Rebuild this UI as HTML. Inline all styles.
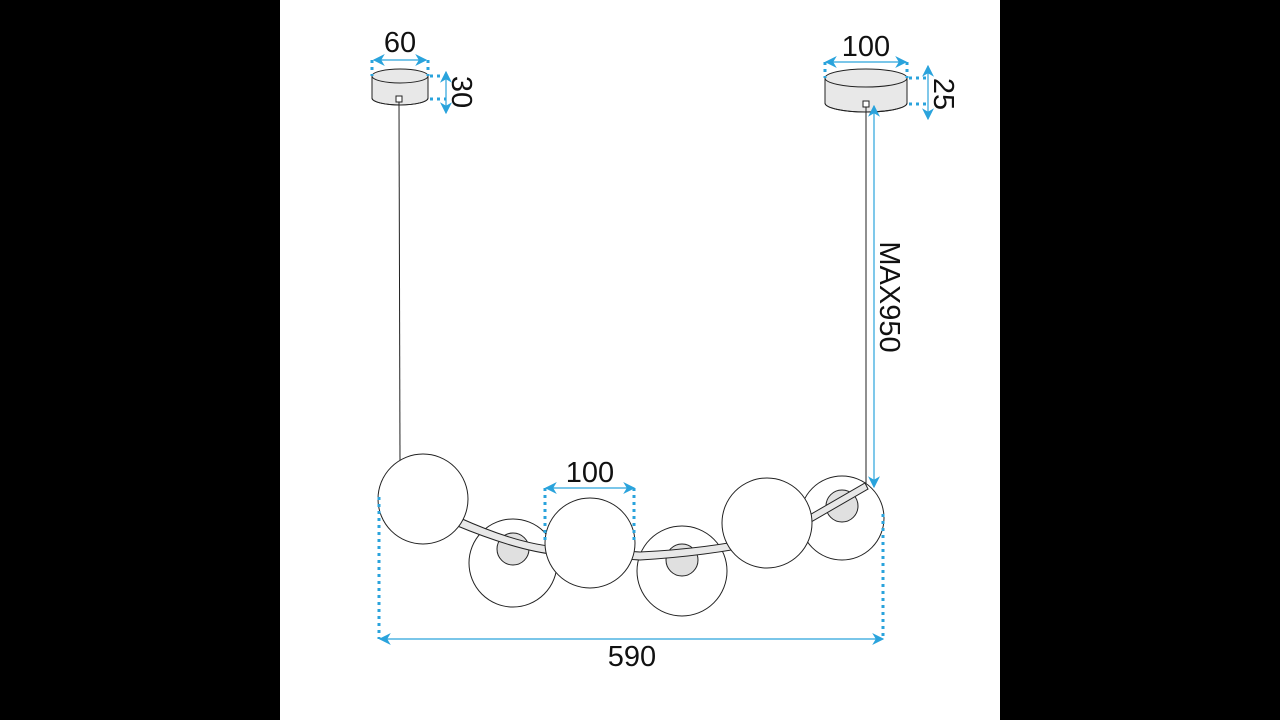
<!DOCTYPE html>
<html><head><style>
html,body{margin:0;padding:0;background:#000;width:1280px;height:720px;overflow:hidden}
svg{display:block}
text{font-family:"Liberation Sans",sans-serif;fill:#111}
</style></head><body>
<svg width="1280" height="720" viewBox="0 0 1280 720">
<defs>
<marker id="a" viewBox="0 0 10 10" refX="9" refY="5" markerWidth="10" markerHeight="10" orient="auto-start-reverse"><path d="M0,0 L10,5 L0,10 L3,5z" fill="#2aa3dc"/></marker>
</defs>
<rect x="280" y="0" width="720" height="720" fill="#fff"/>
<g stroke="#222" stroke-width="1" fill="#e8e8e8">
<path d="M372,76 L372,98 A28,7 0 0 0 428,98 L428,76 Z"/>
<ellipse cx="400" cy="76" rx="28" ry="7"/>
<path d="M372,98 A28,7 0 0 0 428,98" fill="none"/>
<rect x="396" y="96" width="6" height="6" fill="#fff"/>
<line x1="399" y1="102" x2="400" y2="462"/>
<path d="M825,78 L825,103 A41,9 0 0 0 907,103 L907,78 Z"/>
<ellipse cx="866" cy="78" rx="41" ry="9"/>
<path d="M825,103 A41,9 0 0 0 907,103" fill="none"/>
<rect x="863" y="101" width="6" height="6" fill="#fff"/>
<line x1="866" y1="107" x2="866" y2="484"/>
</g>
<g stroke="#222" stroke-width="1">
<circle cx="513" cy="563" r="44" fill="#fff"/>
<circle cx="513" cy="549" r="16" fill="#e0e0e0"/>
<circle cx="682" cy="571" r="45" fill="#fff"/>
<circle cx="682" cy="560" r="16" fill="#e0e0e0"/>
<circle cx="842" cy="518" r="42" fill="#fff"/>
<circle cx="842" cy="506" r="16" fill="#e0e0e0"/>
<path d="M455,525 Q520,552 560,555 L640,560 Q720,555 780,540 L868,489 L865,483 L780,532 Q720,548 640,552 L560,547 Q520,545 460,518 Z" fill="#e8e8e8"/>
<circle cx="423" cy="499" r="45" fill="#fff"/>
<circle cx="590" cy="543" r="45" fill="#fff"/>
<circle cx="767" cy="523" r="45" fill="#fff"/>
</g>
<g stroke="#2aa3dc" stroke-width="1.2" fill="none">
<line x1="374" y1="60" x2="426" y2="60" marker-start="url(#a)" marker-end="url(#a)"/>
<line x1="446" y1="72" x2="446" y2="113" marker-start="url(#a)" marker-end="url(#a)"/>
<line x1="826" y1="62" x2="906" y2="62" marker-start="url(#a)" marker-end="url(#a)"/>
<line x1="928" y1="66" x2="928" y2="119" marker-start="url(#a)" marker-end="url(#a)"/>
<line x1="874" y1="106" x2="874" y2="487" marker-start="url(#a)" marker-end="url(#a)"/>
<line x1="546" y1="488" x2="634" y2="488" marker-start="url(#a)" marker-end="url(#a)"/>
<line x1="380" y1="639" x2="883" y2="639" marker-start="url(#a)" marker-end="url(#a)"/>
</g>
<g stroke="#2aa3dc" stroke-width="3" stroke-dasharray="3,4" fill="none">
<line x1="372" y1="60" x2="372" y2="76"/>
<line x1="428" y1="60" x2="428" y2="76"/>
<line x1="430" y1="76" x2="446" y2="76"/>
<line x1="430" y1="99" x2="446" y2="99"/>
<line x1="825" y1="62" x2="825" y2="78"/>
<line x1="907" y1="62" x2="907" y2="78"/>
<line x1="909" y1="78" x2="928" y2="78"/>
<line x1="909" y1="104" x2="928" y2="104"/>
<line x1="545" y1="488" x2="545" y2="540"/>
<line x1="634" y1="488" x2="634" y2="540"/>
<line x1="379" y1="497" x2="379" y2="639"/>
<line x1="883" y1="514" x2="883" y2="639"/>
</g>
<text x="400" y="52" font-size="29" text-anchor="middle">60</text>
<text x="866" y="56" font-size="29" text-anchor="middle">100</text>
<text x="590" y="482" font-size="29" text-anchor="middle">100</text>
<text x="632" y="666" font-size="29" text-anchor="middle">590</text>
<text font-size="29" text-anchor="middle" transform="translate(452,92) rotate(90)">30</text>
<text font-size="29" text-anchor="middle" transform="translate(934,94) rotate(90)">25</text>
<text font-size="29" text-anchor="middle" transform="translate(880,297) rotate(90)">MAX950</text>
</svg>
</body></html>
